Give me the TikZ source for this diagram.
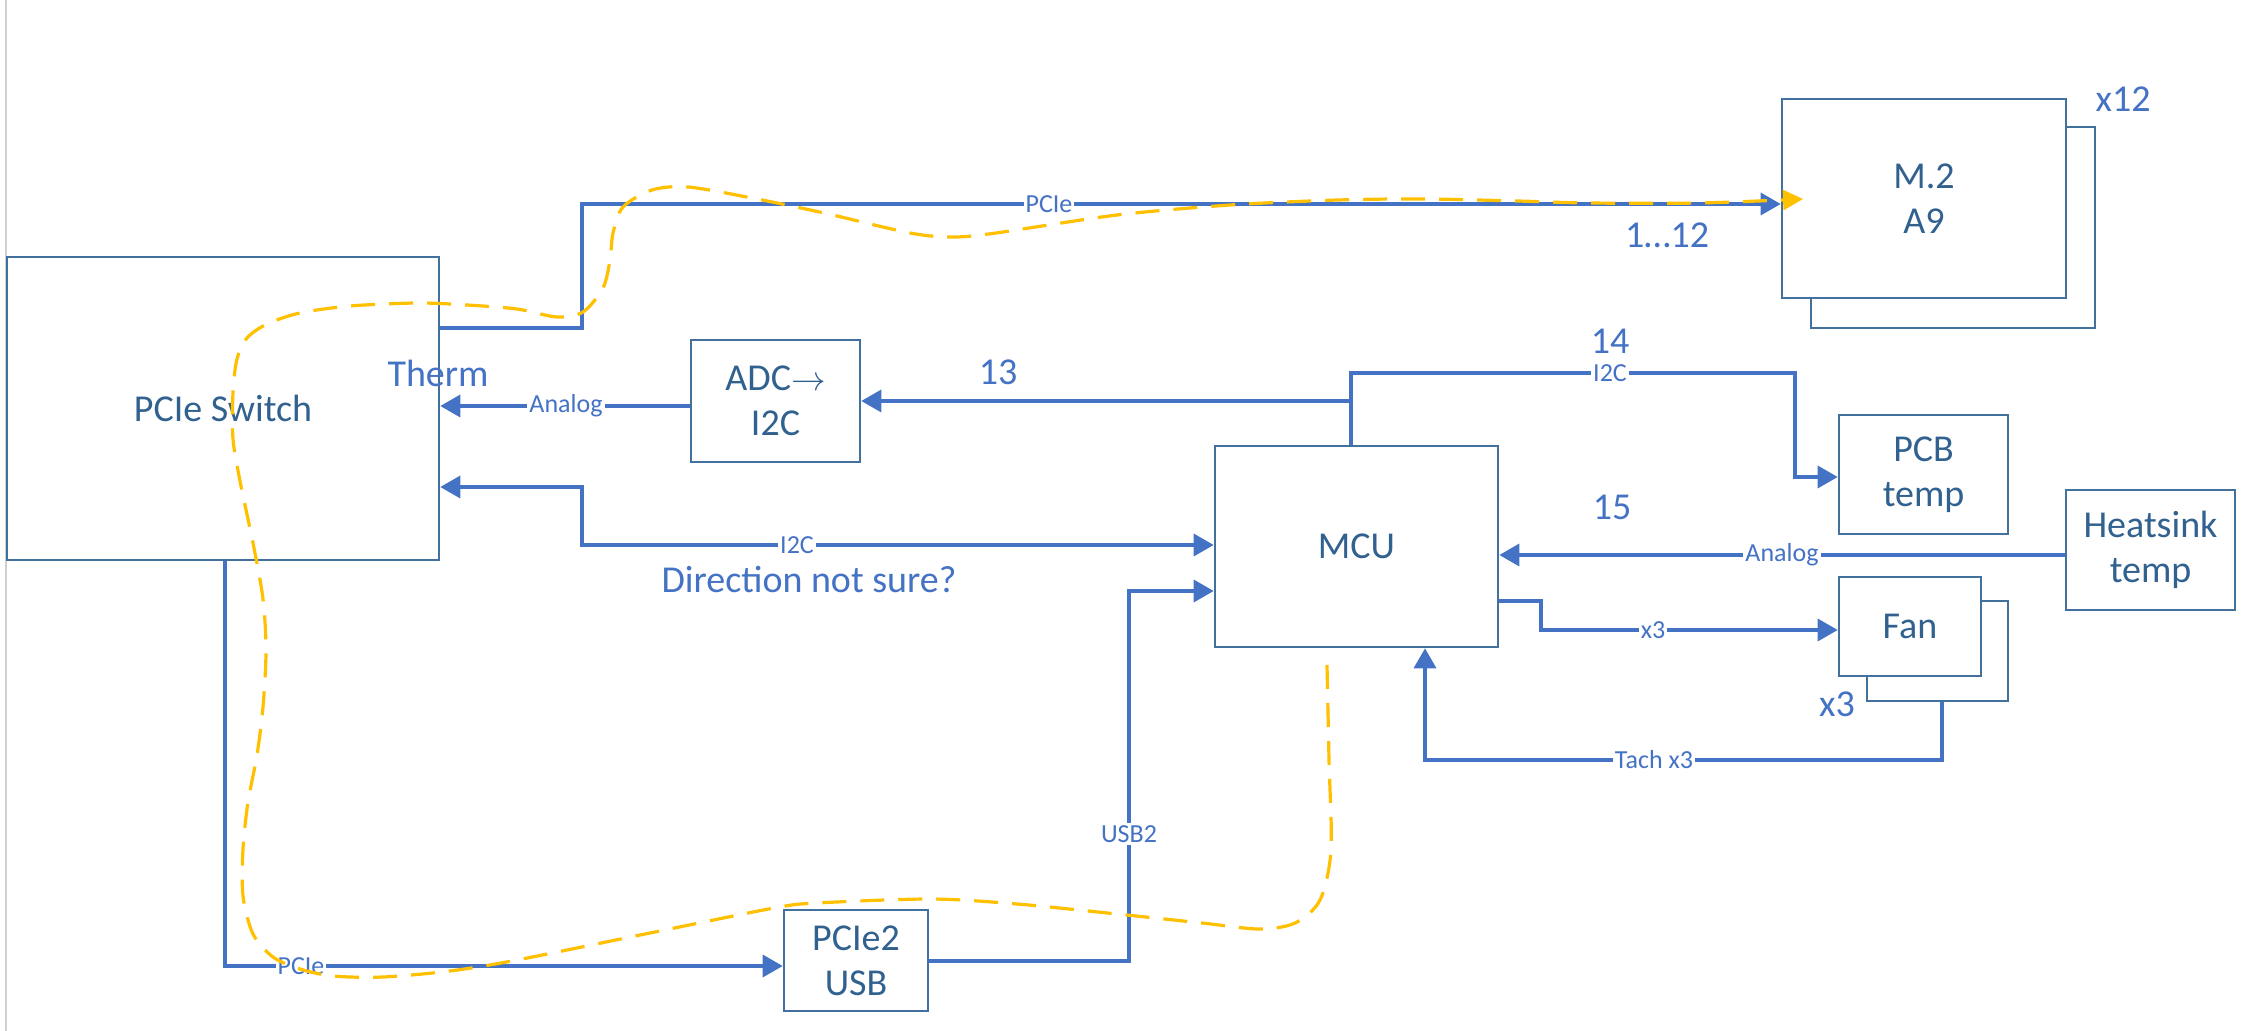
\documentclass[tikz,border=0pt]{standalone}
\usepackage{fontspec}
\setmainfont{Carlito}
\usetikzlibrary{arrows.meta}
\definecolor{conn}{HTML}{4472C4}
\definecolor{boxline}{HTML}{41719C}
\definecolor{boxtext}{HTML}{31618F}
\definecolor{yel}{HTML}{FFC000}
\definecolor{grayline}{HTML}{D0D0D0}
\newcommand\fsbig{\fontsize{19}{22.5}\selectfont}
\newcommand\fssmall{\fontsize{13}{15}\selectfont}
\begin{document}
\begin{tikzpicture}[x=0.5pt,y=-0.5pt,
  box/.style={draw=boxline, line width=1.3pt, fill=white, text=boxtext, font=\fsbig, align=center, inner sep=0pt},
  wire/.style={draw=conn, line width=1.7pt},
  arr/.style={-{Triangle[length=10pt,width=11pt]}},
  arrb/.style={{Triangle[length=10pt,width=11pt]}-{Triangle[length=10pt,width=11pt]}},
  lbl/.style={fill=white, text=conn, font=\fssmall, inner sep=1pt},
  note/.style={text=conn, font=\fsbig, inner sep=0pt}]
\fill[white] (0,0) rectangle (2246,1031);
\useasboundingbox (0,0) rectangle (2246,1031);
\draw[draw=grayline, line width=1.2pt] (6,0) -- (6,1031);

% boxes
\node[box, minimum width=216pt, minimum height=151.5pt] (sw) at (223,408.5) {PCIe Switch};
\node[box, minimum width=142pt, minimum height=100.5pt] (m2back) at (1953,227.5) {};
\node[box, minimum width=142pt, minimum height=99.5pt] (m2) at (1924,198.5) {M.2\\A9};
\node[box, minimum width=84.5pt, minimum height=61pt] (adc) at (775.5,401) {ADC$\rightarrow$\\I2C};
\node[box, minimum width=141.5pt, minimum height=100.5pt] (mcu) at (1356.5,546.5) {MCU};
\node[box, minimum width=84.5pt, minimum height=59.5pt] (pcb) at (1923.5,474.5) {PCB\\temp};
\node[box, minimum width=84.5pt, minimum height=60pt] (heat) at (2150.5,550) {Heatsink\\temp};
\node[box, minimum width=70.5pt, minimum height=50pt] (fanback) at (1937.5,651) {};
\node[box, minimum width=71pt, minimum height=49.5pt] (fan) at (1910,626.5) {Fan};
\node[box, minimum width=72pt, minimum height=50.5pt] (p2u) at (856,960.5) {PCIe2\\USB};

% junction coordinates
\coordinate (pcieA) at (582,328);
\coordinate (pcieB) at (582,204);
\coordinate (an1) at (600,406);
\coordinate (j13) at (1351,401);
\coordinate (j14a) at (1351,373);
\coordinate (j14b) at (1795,373);
\coordinate (j14c) at (1795,477);
\coordinate (i2a) at (582,487);
\coordinate (i2b) at (582,545);
\coordinate (hs) at (1700,555);
\coordinate (x3a) at (1541,601);
\coordinate (x3b) at (1541,630);
\coordinate (ta) at (1942,760);
\coordinate (tb) at (1425,760);
\coordinate (pa) at (225,966);
\coordinate (ua) at (1129,961);
\coordinate (ub) at (1129,591);

% connectors
\draw[wire, arr] (sw.east |- pcieA) -- (pcieA) -- (pcieB) -- (m2.west |- pcieB);
\draw[wire, arr] (adc.west |- an1) -- (sw.east |- an1);
\draw[wire, arr] (mcu.north -| j13) -- (j14a) -- (j14b) -- (j14c) -- (pcb.west |- j14c);
\draw[wire, arr] (j13) -- (adc.east |- j13);
\draw[wire, arrb] (sw.east |- i2a) -- (i2a) -- (i2b) -- (mcu.west |- i2b);
\draw[wire, arr] (heat.west |- hs) -- (mcu.east |- hs);
\draw[wire, arr] (mcu.east |- x3a) -- (x3a) -- (x3b) -- (fan.west |- x3b);
\draw[wire, arr] (fanback.south -| ta) -- (ta) -- (tb) -- (mcu.south -| tb);
\draw[wire, arr] (sw.south -| pa) -- (pa) -- (p2u.west |- pa);
\draw[wire, arr] (p2u.east |- ua) -- (ua) -- (ub) -- (mcu.west |- ub);

% connector labels
\node[lbl] (l1) at (1049,204) {PCIe};
\node[lbl] (l2) at (566,406) {Analog};
\node[lbl] (l3) at (797,545) {I2C};
\node[lbl] (l4) at (1610,373) {I2C};
\node[lbl] (l5) at (1782,555) {Analog};
\node[lbl] (l6) at (1653,630) {x3};
\node[lbl] (l7) at (1654,760) {Tach x3};
\node[lbl] (l8) at (301,966) {PCIe};
\node[lbl] (l9) at (1129,834) {USB2};

% notes
\node[note] (n1) at (438,373) {Therm};
\node[note] (n2) at (998,372) {13};
\node[note] (n3) at (1610,341) {14};
\node[note] (n4) at (1612,507) {15};
\node[note] (n5) at (2123,99) {x12};
\node[note] (n6) at (1667,235) {1…12};
\node[note] (n7) at (1837,704) {x3};
\node[note] (n8) at (809,579) {Direction not sure?};

% yellow data path
\draw[draw=yel, line width=1.6pt, dash pattern=on 12pt off 7pt,
      -{Triangle[length=10pt,width=10pt]}]
  plot[smooth, tension=0.5] coordinates {
  (1327,665) (1329,760) (1331,850) (1320,900) (1295,923) (1259,929) (1202,923)
  (1117,914) (1017,904) (931,899) (817,903) (774,908) (650,933) (517,960)
  (450,971) (383,977) (333,976) (300,969) (273,957) (253,934) (243,896)
  (243,849) (248,802) (257,755) (263,707) (266,651) (263,599) (253,543)
  (240,481) (233,439) (233,392) (237,359) (247,338) (267,324) (300,313)
  (350,306) (417,303) (467,305) (517,309) (557,317) (583,312) (603,288)
  (610,260) (613,233) (623,207) (652,190) (688,187) (752,198) (824,213)
  (910,233) (953,237) (996,233) (1117,215) (1230,205) (1338,200) (1424,199)
  (1517,201) (1589,203) (1700,203) (1803,199)};
\end{tikzpicture}
\end{document}
